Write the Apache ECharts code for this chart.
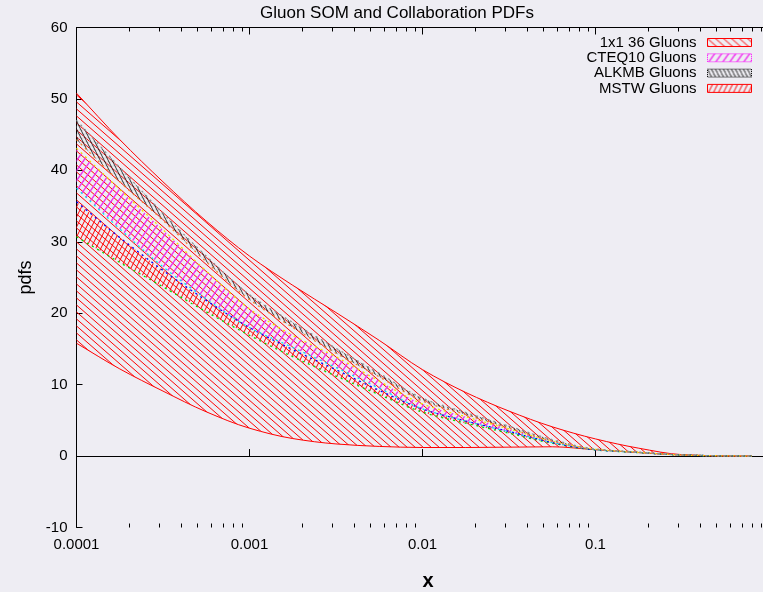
<!DOCTYPE html>
<html>
<head>
<meta charset="utf-8">
<script src="https://cdn.jsdelivr.net/npm/echarts@6/dist/echarts.min.js"></script>
<style>
html,body{margin:0;padding:0;background:#eeedf3;}
#chart{width:763px;height:592px;}
</style>
</head>
<body>
<div id="chart"></div>
<script>
// ---------------- data ----------------
const titleText = 'Gluon SOM and Collaboration PDFs';
const xAxisName = 'x';
const yAxisName = 'pdfs';
const xTickLabels = ['0.0001', '0.001', '0.01', '0.1', '1'];
const yTickLabels = ['-10', '0', '10', '20', '30', '40', '50', '60'];
const minorTickValues = [
  0.0002, 0.0003, 0.0004, 0.0005, 0.0006, 0.0007, 0.0008, 0.0009,
  0.002, 0.003, 0.004, 0.005, 0.006, 0.007, 0.008, 0.009,
  0.02, 0.03, 0.04, 0.05, 0.06, 0.07, 0.08, 0.09,
  0.2, 0.3, 0.4, 0.5, 0.6, 0.7, 0.8, 0.9
];
const seriesNames = ['1x1 36 Gluons', 'CTEQ10 Gluons', 'ALKMB Gluons', 'MSTW Gluons'];

const xValues = [0.0001, 0.000178, 0.000316, 0.000562, 0.001, 0.00178, 0.00316, 0.00562,
                 0.01, 0.0178, 0.0316, 0.0562, 0.1, 0.178, 0.316, 0.562, 0.8];

const som36Upper = [50.8, 44.3, 38.4, 32.9, 28.0, 23.9, 20.1, 16.2, 12.1, 8.9, 6.3, 4.1, 2.4, 1.1, 0.2, 0.02, 0.0];
const som36Lower = [15.8, 12.2, 9.1, 6.2, 3.9, 2.45, 1.7, 1.35, 1.2, 1.2, 1.25, 1.3, 0.88, 0.48, 0.14, 0.03, 0.0];

const cteqUpper = [43.1, 37.3, 31.7, 25.9, 20.6, 16.9, 13.9, 10.5, 7.3, 5.5, 3.8, 2.1, 0.95, 0.52, 0.15, 0.03, 0.0];
const cteqLower = [37.5, 31.8, 26.5, 22.0, 18.0, 15.2, 12.4, 9.5, 6.6, 4.9, 3.4, 1.9, 0.9, 0.5, 0.15, 0.03, 0.0];

const alkmbUpper = [47.0, 40.4, 34.0, 28.0, 22.6, 18.7, 15.1, 11.6, 8.1, 6.1, 4.2, 2.3, 1.0, 0.55, 0.16, 0.03, 0.0];
const alkmbLower = [44.3, 38.4, 33.0, 27.2, 21.9, 18.0, 14.4, 11.1, 7.7, 5.8, 3.9, 2.1, 0.96, 0.52, 0.15, 0.03, 0.0];

const mstwUpper = [35.6, 30.6, 26.0, 21.8, 18.0, 14.9, 12.1, 9.2, 6.6, 4.9, 3.45, 1.9, 0.88, 0.5, 0.15, 0.03, 0.0];
const mstwLower = [30.7, 27.1, 23.7, 20.2, 16.9, 13.9, 11.2, 8.6, 6.15, 4.6, 3.2, 1.8, 0.85, 0.48, 0.14, 0.03, 0.0];

// ---------------- hatch patterns ----------------
function hatch(layers) {
  const n = 4;
  const W = layers[0].dx * n, H = layers[0].dy * n;
  const c = document.createElement('canvas');
  c.width = W; c.height = H;
  const g = c.getContext('2d');
  layers.forEach(L => {
    const s = L.dy / L.dx;
    const m = W / L.dx;
    g.strokeStyle = L.color; g.lineWidth = L.lw;
    for (let k = -3 * m; k <= 4 * m; k++) {
      g.beginPath();
      if (L.dir === 'back') {
        g.moveTo(-W, -s * W + k * L.dy); g.lineTo(2 * W, 2 * s * W + k * L.dy);
      } else {
        g.moveTo(-W, s * W + k * L.dy); g.lineTo(2 * W, -2 * s * W + k * L.dy);
      }
      g.stroke();
    }
  });
  return {image: c, repeat: 'repeat'};
}

const fillSom = hatch([{color: '#ff0000', dx: 8, dy: 7, dir: 'back', lw: 1}]);
const fillCteq = hatch([{color: '#ee33ee', dx: 7, dy: 10, dir: 'fwd', lw: 1.4}]);
const fillAlkmb = hatch([{color: '#111111', dx: 4, dy: 8, dir: 'back', lw: 0.9},
                         {color: '#c4c4c4', dx: 4, dy: 8, dir: 'fwd', lw: 0.6}]);
const fillMstw = hatch([{color: '#ff0000', dx: 5, dy: 10, dir: 'fwd', lw: 1}]);

const FONT = 'Liberation Sans, Arial, Helvetica, sans-serif';
const FS = 15;
const DOT = [2, 4];

// monotone cubic segments through screen points (x increasing)
function monoSegments(p) {
  const n = p.length, d = [], m = [];
  for (let i = 0; i < n - 1; i++) d[i] = (p[i + 1][1] - p[i][1]) / (p[i + 1][0] - p[i][0]);
  m[0] = d[0]; m[n - 1] = d[n - 2];
  for (let i = 1; i < n - 1; i++) {
    if (d[i - 1] * d[i] <= 0) m[i] = 0;
    else {
      const h0 = p[i][0] - p[i - 1][0], h1 = p[i + 1][0] - p[i][0];
      const w1 = 2 * h1 + h0, w2 = h1 + 2 * h0;
      m[i] = (w1 + w2) / (w1 / d[i - 1] + w2 / d[i]);
    }
  }
  const segs = [];
  for (let i = 0; i < n - 1; i++) {
    const h = p[i + 1][0] - p[i][0];
    segs.push([p[i], [p[i][0] + h / 3, p[i][1] + m[i] * h / 3],
               [p[i + 1][0] - h / 3, p[i + 1][1] - m[i + 1] * h / 3], p[i + 1]]);
  }
  return segs;
}
function segPath(segs, start) {
  let s = start ? 'M' + segs[0][0][0] + ' ' + segs[0][0][1] : '';
  segs.forEach(g => { s += ' C' + g[1][0] + ' ' + g[1][1] + ' ' + g[2][0] + ' ' + g[2][1] + ' ' + g[3][0] + ' ' + g[3][1]; });
  return s;
}
function revSegs(segs) {
  return segs.slice().reverse().map(g => [g[3], g[2], g[1], g[0]]);
}

function band(name, lower, upper, fill, lowerColor, upperColor, dash, z) {
  return {
    name: name, type: 'custom', z: z, silent: true, clip: true,
    data: xValues.map((x, i) => [x, lower[i], upper[i]]),
    encode: {x: 0, y: [1, 2]},
    itemStyle: {color: upperColor},
    renderItem: function (params, api) {
      if (params.dataIndex !== 0) return null;
      const N = params.dataInsideLength;
      const up = [], lo = [];
      for (let i = 0; i < N; i++) {
        const x = api.value(0, i);
        up.push(api.coord([x, api.value(2, i)]));
        lo.push(api.coord([x, api.value(1, i)]));
      }
      const su = monoSegments(up), sl = monoSegments(lo);
      const rl = revSegs(sl);
      const areaPath = segPath(su, true) + ' L' + lo[N - 1][0] + ' ' + lo[N - 1][1] + segPath(rl, false) + ' Z';
      return {
        type: 'group',
        children: [
          {type: 'path', shape: {pathData: areaPath}, style: {fill: fill, stroke: null}},
          {type: 'path', shape: {pathData: segPath(sl, true)},
           style: {fill: null, stroke: lowerColor, lineWidth: dash ? 1.3 : 1, lineDash: dash}},
          {type: 'path', shape: {pathData: segPath(su, true)},
           style: {fill: null, stroke: upperColor, lineWidth: dash ? 1.3 : 1, lineDash: dash}}
        ]
      };
    }
  };
}

const series = [
  band(seriesNames[0], som36Lower, som36Upper, fillSom, '#ff0000', '#ff0000', null, 2),
  band(seriesNames[3], mstwLower, mstwUpper, fillMstw, '#00dd00', '#0000ff', DOT, 3),
  band(seriesNames[1], cteqLower, cteqUpper, fillCteq, '#00e5ee', '#f2e600', DOT, 4),
  band(seriesNames[2], alkmbLower, alkmbUpper, fillAlkmb, '#f08030', '#909090', DOT, 5)
];

// minor ticks of the log axes (bottom and top)
series.push({
  type: 'custom', silent: true, z: 20, clip: false,
  data: minorTickValues.map(v => [v, 0]),
  encode: {x: 0, y: 1},
  renderItem: function (params, api) {
    const x = api.value(0);
    const b = api.coord([x, -10]);
    const t = api.coord([x, 60]);
    const px = Math.round(b[0]) + 0.5;
    return {
      type: 'group',
      children: [
        {type: 'line', shape: {x1: px, y1: b[1], x2: px, y2: b[1] - 4}, style: {stroke: '#000', lineWidth: 1}},
        {type: 'line', shape: {x1: px, y1: t[1], x2: px, y2: t[1] + 4}, style: {stroke: '#000', lineWidth: 1}}
      ]
    };
  }
});

const chart = echarts.init(document.getElementById('chart'));
chart.setOption({
  animation: false,
  backgroundColor: '#eeedf3',
  textStyle: {fontFamily: FONT},
  title: {
    text: titleText, left: 392, top: 0, textAlign: 'center',
    textStyle: {fontFamily: FONT, fontSize: 17, fontWeight: 'normal', color: '#000'}
  },
  legend: {
    orient: 'vertical', right: 11, top: 35, align: 'right', padding: 0,
    itemWidth: 44, itemHeight: 8, itemGap: 0.3, selectedMode: false,
    textStyle: {fontFamily: FONT, fontSize: FS, color: '#000', lineHeight: 15, padding: [0, 6, 0, 0]},
    data: [
      {name: seriesNames[0], icon: 'rect', itemStyle: {color: fillSom, borderColor: '#ff0000', borderWidth: 1}},
      {name: seriesNames[1], icon: 'rect', itemStyle: {color: fillCteq, borderColor: '#ff00ff', borderWidth: 1, borderType: 'dotted'}},
      {name: seriesNames[2], icon: 'rect', itemStyle: {color: fillAlkmb, borderColor: '#000', borderWidth: 1, borderType: 'dotted'}},
      {name: seriesNames[3], icon: 'rect', itemStyle: {color: fillMstw, borderColor: '#ff0000', borderWidth: 1}}
    ]
  },
  grid: {left: 76.5, right: -5.5, top: 27.5, bottom: 64.5, containLabel: false, outerBoundsMode: 'none'},
  xAxis: [
    {
      type: 'log', logBase: 10, min: 0.0001, max: 1, position: 'bottom',
      name: xAxisName, nameLocation: 'middle', nameGap: 44,
      nameTextStyle: {fontFamily: FONT, fontSize: 20, fontWeight: 'bold', color: '#000', padding: [0, 0, 0, 11]},
      axisLine: {lineStyle: {color: '#000', width: 1}},
      axisTick: {inside: true, length: 7, lineStyle: {color: '#000'}},
      axisLabel: {
        fontFamily: FONT, fontSize: FS, color: '#000', margin: 10,
        formatter: v => xTickLabels[Math.round(Math.log10(v)) + 4]
      },
      splitLine: {show: false}, minorTick: {show: false}
    },
    {
      type: 'log', logBase: 10, min: 0.0001, max: 1, position: 'top',
      axisLine: {lineStyle: {color: '#000', width: 1}},
      axisTick: {inside: true, length: 7, lineStyle: {color: '#000'}},
      axisLabel: {show: false}, splitLine: {show: false}
    }
  ],
  yAxis: {
    type: 'value', min: -10, max: 60, interval: 10,
    name: yAxisName, nameLocation: 'middle', nameGap: 40,
    nameTextStyle: {fontFamily: FONT, fontSize: 18, color: '#000'},
    axisLine: {show: true, lineStyle: {color: '#000', width: 1}},
    axisTick: {show: true, inside: true, length: 6, lineStyle: {color: '#000'}},
    axisLabel: {
      fontFamily: FONT, fontSize: FS, color: '#000', margin: 9,
      formatter: v => yTickLabels[Math.round((v + 10) / 10)]
    },
    splitLine: {show: false}
  },
  series: series
});
</script>
</body>
</html>
